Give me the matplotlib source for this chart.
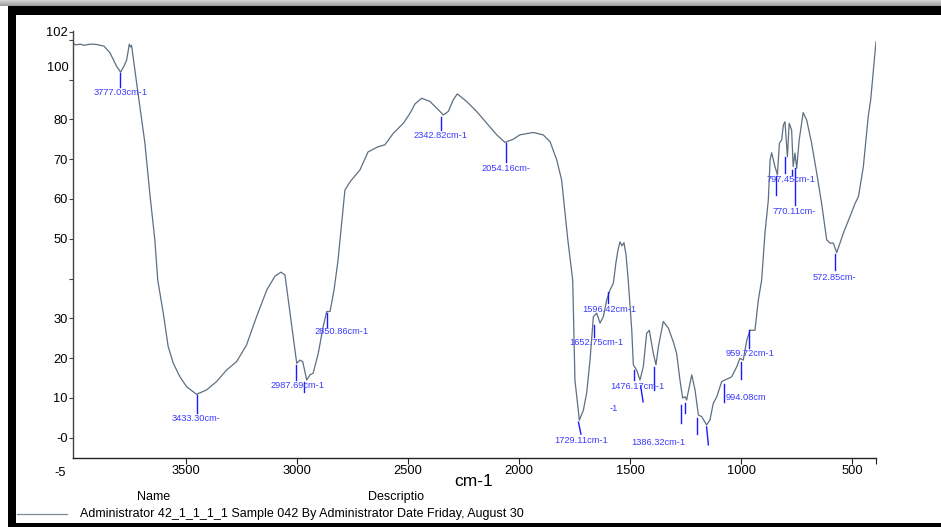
import matplotlib
matplotlib.use("Agg")

import numpy as np
import matplotlib.pyplot as plt
from matplotlib.patches import Rectangle

plt.rcParams["font.family"] = ["Liberation Sans", "DejaVu Sans"]

# spectrum (cm-1, %T)
wavenumber = [
    4010, 3995, 3977, 3959, 3941, 3923, 3901, 3869, 3842, 3812,
    3794, 3779, 3767, 3755, 3750, 3745, 3722, 3685, 3662, 3640,
    3627, 3602, 3580, 3557, 3527, 3497, 3452, 3407, 3362, 3317,
    3272, 3227, 3182, 3136, 3099, 3072, 3054, 3039, 3017, 3001,
    2986, 2974, 2956, 2941, 2927, 2904, 2882, 2866, 2851, 2833,
    2815, 2797, 2784, 2761, 2716, 2680, 2635, 2604, 2566, 2521,
    2491, 2468, 2438, 2401, 2356, 2341, 2318, 2296, 2278, 2236,
    2191, 2145, 2100, 2063, 2026, 1996, 1936, 1891, 1860, 1830,
    1808, 1780, 1758, 1748, 1728, 1710, 1695, 1680, 1665, 1650,
    1635, 1620, 1605, 1590, 1575, 1563, 1554, 1545, 1536, 1527,
    1518, 1508, 1492, 1485, 1470, 1455, 1440, 1425, 1413, 1395,
    1383, 1372, 1350, 1327, 1305, 1290, 1275, 1263, 1252, 1245,
    1222, 1207, 1192, 1177, 1155, 1140, 1125, 1109, 1087, 1072,
    1042, 1019, 1005, 990, 974, 959, 937, 922, 907, 892,
    877, 869, 862, 847, 836, 827, 817, 809, 802, 791,
    783, 772, 765, 757, 749, 738, 720, 704, 682, 659,
    637, 614, 599, 584, 569, 539, 509, 486, 471, 449,
    427, 416, 392,
]
transmittance = [
    99.1, 98.7, 98.9, 98.6, 98.8, 98.9, 98.8, 98.4, 96.7, 93.3,
    91.85, 93.4, 94.9, 98.9, 98.2, 98.6, 89.1, 74.1, 61.0, 49.7,
    39.6, 31.3, 22.9, 18.7, 15.3, 12.8, 10.9, 12.0, 14.1, 17.0,
    19.1, 23.3, 30.4, 37.1, 40.6, 41.6, 40.9, 34.6, 25.4, 18.7,
    19.5, 19.1, 14.5, 15.8, 16.2, 21.2, 27.9, 31.7, 31.7, 37.1,
    44.6, 54.7, 62.2, 64.3, 67.3, 71.8, 73.1, 73.6, 76.5, 79.0,
    81.5, 83.9, 85.3, 84.5, 82.0, 81.1, 82.0, 84.9, 86.4, 84.5,
    82.0, 79.0, 76.1, 74.2, 75.0, 76.1, 76.7, 76.1, 74.4, 69.8,
    64.8, 49.7, 39.6, 14.5, 4.4, 6.9, 11.3, 19.5, 30.4, 31.3,
    28.8, 30.4, 34.6, 37.1, 38.8, 44.1, 47.2, 49.2, 48.2, 49.0,
    46.0, 39.6, 27.0, 18.3, 17.0, 14.5, 17.85, 26.2, 27.0, 21.2,
    18.3, 22.9, 29.2, 27.5, 24.1, 21.2, 14.5, 9.95, 10.3, 9.45,
    15.8, 12.0, 5.7, 5.3, 3.2, 4.4, 8.65, 10.3, 14.1, 14.5,
    15.3, 17.85, 19.95, 19.5, 24.5, 27.0, 27.0, 34.6, 39.6, 51.5,
    59.7, 69.8, 71.6, 68.1, 66.1, 74.0, 74.8, 78.6, 79.4, 70.6,
    79.0, 77.3, 68.1, 71.5, 67.7, 74.8, 81.7, 79.8, 74.0, 66.5,
    58.9, 49.7, 48.9, 48.9, 46.5, 51.4, 55.6, 58.9, 60.6, 68.1,
    80.7, 84.9, 99.5,
]

# peak-pick labels
peak_labels = [
    "3777.03cm-1", "3433.30cm-", "2987.69cm-1", "2850.86cm-1",
    "2342.82cm-1", "2054.16cm-", "1729.11cm-1", "1652.75cm-1",
    "1596.42cm-1", "1476.17cm-1", "-1", "1386.32cm-1", "994.08cm",
    "959.72cm-1", "797.45cm-1", "770.11cm-", "572.85cm-",
]
label_wn = [3793, 3453, 2999, 2797, 2353, 2059, 1718, 1652, 1593,
            1467, 1574, 1374, 980, 959, 777, 759, 577]
label_t = [86.7, 4.9, 13.0, 26.8, 75.9, 67.6, -0.8, 23.9, 32.1,
           12.8, 7.4, -1.2, 10.0, 21.1, 64.8, 56.8, 40.3]

# peak-pick tick marks
mark_wn_top = [3797, 3452, 3004, 2968, 2866, 2353, 2060, 1732, 1662, 1600,
               1482, 1452, 1391, 1272, 1250, 1197, 1155, 1075, 1000, 964,
               842, 800, 769, 755, 575]
mark_wn_bot = [3797, 3452, 3004, 2968, 2866, 2353, 2060, 1721, 1662, 1600,
               1482, 1441, 1391, 1272, 1250, 1197, 1147, 1075, 1000, 964,
               842, 800, 769, 755, 575]
mark_t_top = [91.7, 10.8, 18.3, 14.0, 31.4, 80.6, 74.1, 3.9, 28.3, 36.7,
              17.0, 13.0, 17.85, 8.2, 8.7, 4.9, 2.7, 13.5, 19.1, 27.0,
              65.8, 70.6, 67.3, 67.8, 46.2]
mark_t_bot = [88.2, 6.2, 14.5, 11.5, 27.9, 77.3, 69.3, 0.9, 25.3, 33.8,
              14.5, 9.0, 12.0, 3.7, 6.2, 0.9, -1.8, 9.0, 14.7, 22.5,
              61.0, 66.6, 66.0, 58.5, 42.1]

ytick_values = [0, 10, 20, 30, 40, 50, 60, 70, 80, 90, 100, 102]
ytick_labels = ["-0", "10", "20", "30", "", "50", "60", "70", "80", "", "", "102"]
xtick_values = [3500, 3000, 2500, 2000, 1500, 1000, 500]

W, H = 941, 527
fig = plt.figure(figsize=(W / 100, H / 100), dpi=100)

# window chrome: grey strip and black frame
strip = fig.add_axes([0, 1 - 6 / H, 1, 6 / H])
strip.imshow(np.linspace(0.82, 0.62, 6)[:, None], cmap="gray", vmin=0, vmax=1,
             aspect="auto", extent=[0, 1, 0, 1])
strip.axis("off")
fig.add_artist(Rectangle((8 / W, 1 - 15 / H), 1, 9 / H, transform=fig.transFigure,
                         color="black", lw=0))
fig.add_artist(Rectangle((8 / W, 0), 8 / W, 1 - 6 / H, transform=fig.transFigure,
                         color="black", lw=0))
fig.add_artist(Rectangle((8 / W, 0), 1, 4 / H, transform=fig.transFigure,
                         color="black", lw=0))

ax = fig.add_axes([72.7 / W, (H - 457.7) / H, (876 - 72.7) / W, (457.7 - 31) / H])

ax.plot(wavenumber, transmittance, color="#5d6f81", linewidth=0.9)

for i in range(len(mark_wn_top)):
    ax.plot([mark_wn_top[i], mark_wn_bot[i]], [mark_t_top[i], mark_t_bot[i]],
            color="#1a1aff", linewidth=1.0)

for i in range(len(peak_labels)):
    ax.text(label_wn[i], label_t[i], peak_labels[i], color="#3b3bff",
            fontsize=6.7, ha="center", va="center")

ax.set_xlim(4010, 392)
ax.set_ylim(-5.03, 102.2)

ax.set_xticks(xtick_values)
ax.set_xticks([392], minor=True)
ax.set_yticks(ytick_values)
ax.set_yticklabels(ytick_labels)

ax.spines["top"].set_visible(False)
ax.spines["right"].set_visible(False)
ax.spines["left"].set_color("#444444")
ax.spines["bottom"].set_color("#222222")
ax.spines["left"].set_linewidth(1.0)
ax.spines["bottom"].set_linewidth(1.0)

ax.tick_params(axis="y", direction="out", length=3, width=0.8, pad=0.5,
               labelsize=9.3, color="#444444")
ax.tick_params(axis="x", which="both", direction="out", length=4, width=0.8,
               pad=1.5, labelsize=9.3, color="#222222")

# the misplaced "100" and the stray "-5" of the original axis
ax.annotate("100", xy=(0, 92.9), xycoords=("axes fraction", "data"),
            xytext=(-2.5, 0), textcoords="offset points", ha="right",
            va="center", fontsize=9.3, annotation_clip=False)
ax.annotate("-5", xy=(0, -8.75), xycoords=("axes fraction", "data"),
            xytext=(-5, 0), textcoords="offset points", ha="right",
            va="center", fontsize=9.3, annotation_clip=False)

fig.text(474 / W, 1 - 482 / H, "cm-1", fontsize=12.5, ha="center", va="center")
fig.text(154 / W, 1 - 497 / H, "Name", fontsize=9, ha="center", va="center")
fig.text(396 / W, 1 - 497 / H, "Descriptio", fontsize=9, ha="center", va="center")

# legend row
fig.add_artist(plt.Line2D([17 / W, 67 / W], [1 - 514 / H, 1 - 514 / H],
                          color="#7d8c9c", linewidth=0.9))
fig.text(80 / W, 1 - 514 / H,
         "Administrator 42_1_1_1_1 Sample 042 By Administrator Date Friday, August 30",
         fontsize=9, ha="left", va="center")

fig.savefig("out.png", dpi=100)
